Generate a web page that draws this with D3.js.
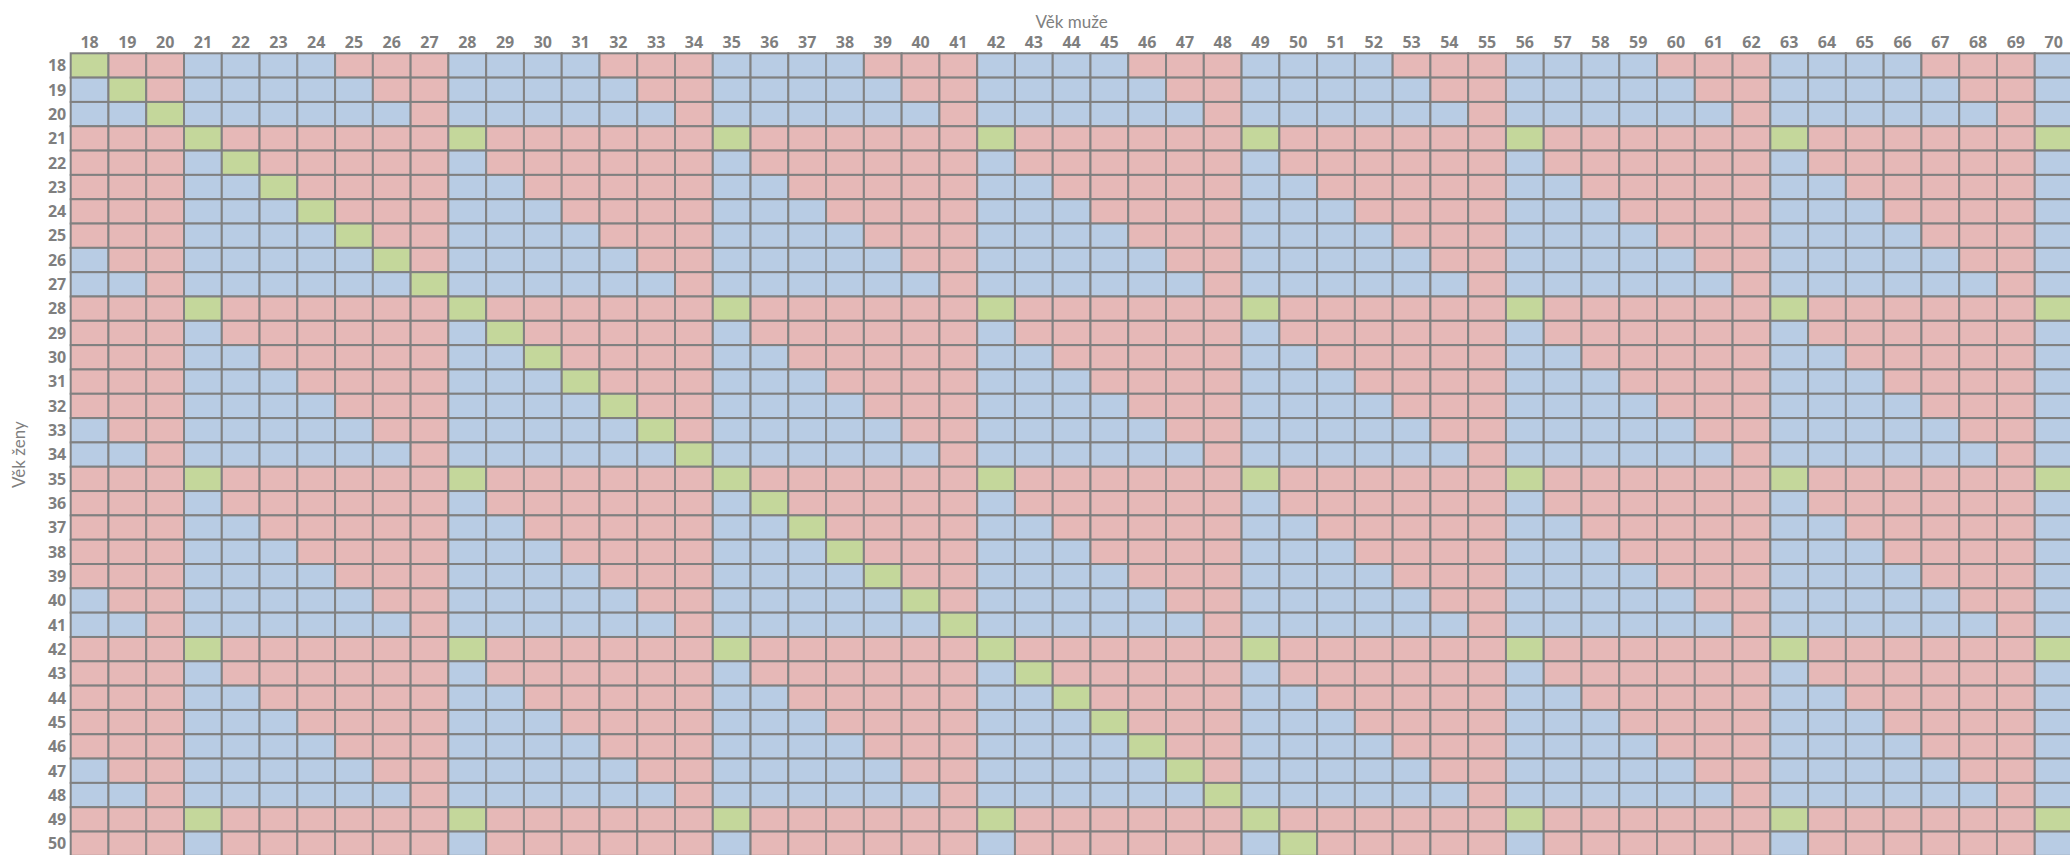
<!DOCTYPE html>
<html>
<head>
<meta charset="utf-8">
<script src="https://cdn.jsdelivr.net/npm/d3@7"></script>
<style>
  body { margin: 0; background: #fff; }
  text { font-family: Lato, "Open Sans", sans-serif; }
</style>
</head>
<body>
<div id="chart"></div>
<script>
const menAges = d3.range(18, 71);
const womenAges = d3.range(18, 51);
const xTitle = "Věk muže";
const yTitle = "Věk ženy";

// one string per woman's age, one letter per man's age (G / R / B)
const cellRows = [
  "GRR BBBBRRR BBBBRRR BBBBRRR BBBBRRR BBBBRRR BBBBRRR BBBBRRR B", // 18
  "BGR BBBBBRR BBBBBRR BBBBBRR BBBBBRR BBBBBRR BBBBBRR BBBBBRR B", // 19
  "BBG BBBBBBR BBBBBBR BBBBBBR BBBBBBR BBBBBBR BBBBBBR BBBBBBR B", // 20
  "RRR GRRRRRR GRRRRRR GRRRRRR GRRRRRR GRRRRRR GRRRRRR GRRRRRR G", // 21
  "RRR BGRRRRR BRRRRRR BRRRRRR BRRRRRR BRRRRRR BRRRRRR BRRRRRR B", // 22
  "RRR BBGRRRR BBRRRRR BBRRRRR BBRRRRR BBRRRRR BBRRRRR BBRRRRR B", // 23
  "RRR BBBGRRR BBBRRRR BBBRRRR BBBRRRR BBBRRRR BBBRRRR BBBRRRR B", // 24
  "RRR BBBBGRR BBBBRRR BBBBRRR BBBBRRR BBBBRRR BBBBRRR BBBBRRR B", // 25
  "BRR BBBBBGR BBBBBRR BBBBBRR BBBBBRR BBBBBRR BBBBBRR BBBBBRR B", // 26
  "BBR BBBBBBG BBBBBBR BBBBBBR BBBBBBR BBBBBBR BBBBBBR BBBBBBR B", // 27
  "RRR GRRRRRR GRRRRRR GRRRRRR GRRRRRR GRRRRRR GRRRRRR GRRRRRR G", // 28
  "RRR BRRRRRR BGRRRRR BRRRRRR BRRRRRR BRRRRRR BRRRRRR BRRRRRR B", // 29
  "RRR BBRRRRR BBGRRRR BBRRRRR BBRRRRR BBRRRRR BBRRRRR BBRRRRR B", // 30
  "RRR BBBRRRR BBBGRRR BBBRRRR BBBRRRR BBBRRRR BBBRRRR BBBRRRR B", // 31
  "RRR BBBBRRR BBBBGRR BBBBRRR BBBBRRR BBBBRRR BBBBRRR BBBBRRR B", // 32
  "BRR BBBBBRR BBBBBGR BBBBBRR BBBBBRR BBBBBRR BBBBBRR BBBBBRR B", // 33
  "BBR BBBBBBR BBBBBBG BBBBBBR BBBBBBR BBBBBBR BBBBBBR BBBBBBR B", // 34
  "RRR GRRRRRR GRRRRRR GRRRRRR GRRRRRR GRRRRRR GRRRRRR GRRRRRR G", // 35
  "RRR BRRRRRR BRRRRRR BGRRRRR BRRRRRR BRRRRRR BRRRRRR BRRRRRR B", // 36
  "RRR BBRRRRR BBRRRRR BBGRRRR BBRRRRR BBRRRRR BBRRRRR BBRRRRR B", // 37
  "RRR BBBRRRR BBBRRRR BBBGRRR BBBRRRR BBBRRRR BBBRRRR BBBRRRR B", // 38
  "RRR BBBBRRR BBBBRRR BBBBGRR BBBBRRR BBBBRRR BBBBRRR BBBBRRR B", // 39
  "BRR BBBBBRR BBBBBRR BBBBBGR BBBBBRR BBBBBRR BBBBBRR BBBBBRR B", // 40
  "BBR BBBBBBR BBBBBBR BBBBBBG BBBBBBR BBBBBBR BBBBBBR BBBBBBR B", // 41
  "RRR GRRRRRR GRRRRRR GRRRRRR GRRRRRR GRRRRRR GRRRRRR GRRRRRR G", // 42
  "RRR BRRRRRR BRRRRRR BRRRRRR BGRRRRR BRRRRRR BRRRRRR BRRRRRR B", // 43
  "RRR BBRRRRR BBRRRRR BBRRRRR BBGRRRR BBRRRRR BBRRRRR BBRRRRR B", // 44
  "RRR BBBRRRR BBBRRRR BBBRRRR BBBGRRR BBBRRRR BBBRRRR BBBRRRR B", // 45
  "RRR BBBBRRR BBBBRRR BBBBRRR BBBBGRR BBBBRRR BBBBRRR BBBBRRR B", // 46
  "BRR BBBBBRR BBBBBRR BBBBBRR BBBBBGR BBBBBRR BBBBBRR BBBBBRR B", // 47
  "BBR BBBBBBR BBBBBBR BBBBBBR BBBBBBG BBBBBBR BBBBBBR BBBBBBR B", // 48
  "RRR GRRRRRR GRRRRRR GRRRRRR GRRRRRR GRRRRRR GRRRRRR GRRRRRR G", // 49
  "RRR BRRRRRR BRRRRRR BRRRRRR BRRRRRR BGRRRRR BRRRRRR BRRRRRR B"  // 50
];

const fills = { G: "#c4d79b", R: "#e6b8b7", B: "#b8cce4" };

function drawGrid(id) {
  const width = 2070;
  const height = 855;
  const left = 70.7;
  const top = 53.3;
  const cellW = 37.77;
  const cellH = 24.32;
  const grey = "#7f7f7f";

  const cells = [];
  cellRows.forEach((row, i) => {
    row.replace(/ /g, "").split("").forEach((code, j) => {
      cells.push({ woman: womenAges[i], man: menAges[j], code: code });
    });
  });

  const x = d3.scaleBand()
    .domain(menAges)
    .range([left, left + cellW * menAges.length]);
  const y = d3.scaleBand()
    .domain(womenAges)
    .range([top, top + cellH * womenAges.length]);

  const svg = d3.select(id)
    .append("svg")
    .attr("width", width)
    .attr("height", height);

  svg.append("g")
    .selectAll("rect")
    .data(cells)
    .enter()
    .append("rect")
    .attr("x", d => x(d.man))
    .attr("y", d => y(d.woman))
    .attr("width", x.bandwidth())
    .attr("height", y.bandwidth())
    .style("fill", d => fills[d.code])
    .style("stroke", "#808080")
    .style("stroke-width", 2);

  const xAxis = svg.append("g")
    .attr("transform", "translate(0," + (top - 5) + ")")
    .call(d3.axisTop(x).tickSize(0).tickPadding(0));
  const yAxis = svg.append("g")
    .attr("transform", "translate(" + (left - 4.5) + ",0)")
    .call(d3.axisLeft(y).tickSize(0).tickPadding(0));

  [xAxis, yAxis].forEach(axis => {
    axis.select(".domain").remove();
    axis.selectAll("text")
      .style("font-family", "'Open Sans', Lato, sans-serif")
      .style("font-size", "16px")
      .style("font-weight", "bold")
      .style("fill", grey);
  });
  yAxis.selectAll("text").attr("dy", "0.36em");

  svg.append("text")
    .attr("x", left + cellW * menAges.length / 2)
    .attr("y", 27.5)
    .attr("text-anchor", "middle")
    .style("font-size", "17px")
    .style("fill", grey)
    .text(xTitle);

  svg.append("text")
    .attr("transform", "translate(25," + (top + cellH * womenAges.length / 2) + ") rotate(-90)")
    .attr("text-anchor", "middle")
    .style("font-size", "17px")
    .style("fill", grey)
    .text(yTitle);
}

drawGrid("#chart");
</script>
</body>
</html>
